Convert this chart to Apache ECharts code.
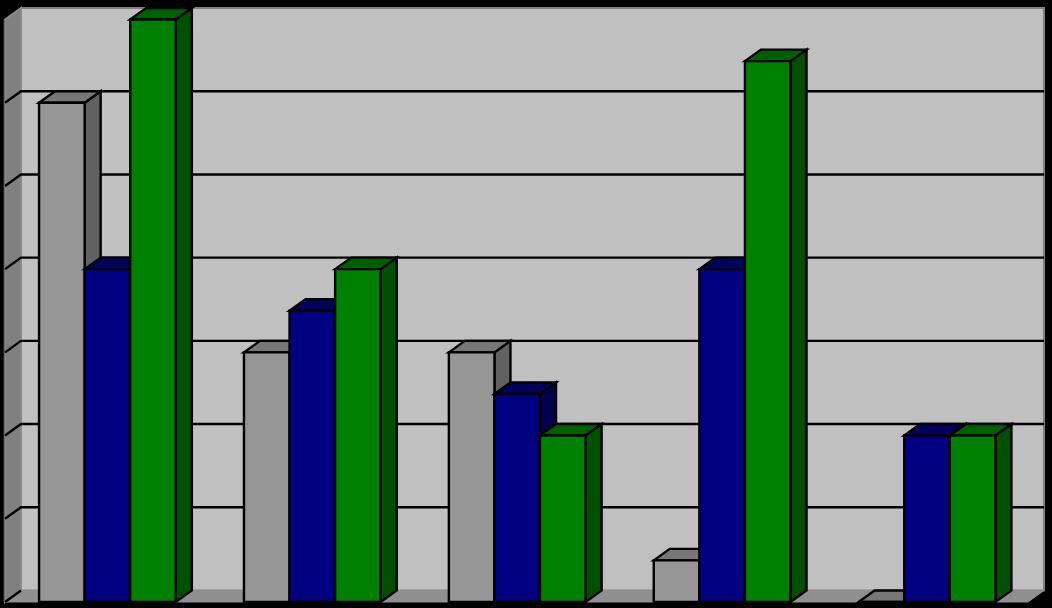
<!DOCTYPE html>
<html><head><meta charset="utf-8">
<style>html,body{margin:0;padding:0;background:#000}#c{width:1052px;height:608px}</style>
<script src="https://cdn.jsdelivr.net/npm/echarts@6/dist/echarts.min.js"></script>
</head><body><div id="c"></div>
<script>
const categories = ['A','B','C','D','E'];
const seriesGray  = [6, 3, 3, 0.5, 0];
const seriesNavy  = [4, 3.5, 2.5, 4, 2];
const seriesGreen = [7, 4, 2, 6.5, 2];
const gridValues = [0,1,2,3,4,5,6,7];
const DX = 16, DY = 11.5, BAR = 0.2225, WALL_TRIM = 1.5;
const palette = [
  {front:'#969696', top:'#777777', side:'#616161'},
  {front:'#000080', top:'#00005f', side:'#00004f'},
  {front:'#008000', top:'#006000', side:'#005000'}
];
const chart = echarts.init(document.getElementById('c'), null, {renderer:'canvas'});
const poly = (points, fill, lw, stroke) => ({
  type:'polygon', shape:{points},
  style:{fill, stroke: stroke||'#000', lineWidth: lw===undefined?2.4:lw, lineJoin:'miter'}
});
function renderBackdrop(params, api){
  const step = api.size([1,0])[0];
  const x0 = api.coord([0,0])[0] - step/2;
  const x1 = x0 + step*categories.length - WALL_TRIM;
  const yb = api.coord([0,0])[1], yt = api.coord([0,7])[1];
  const kids = [];
  kids.push(poly([[x0+DX,yt-DY],[x1+DX,yt-DY],[x1+DX,yb-DY],[x0+DX,yb-DY]],'#c0c0c0',2,'#808080'));
  kids.push(poly([[x0,yt],[x0+DX,yt-DY],[x0+DX,yb-DY],[x0,yb]],'#808080',2,'#8a8a8a'));
  kids.push(poly([[x0,yb],[x1,yb],[x1+DX,yb-DY],[x0+DX,yb-DY]],'#8f8f8f',1,'#8f8f8f'));
  gridValues.slice(1,-1).forEach(v=>{
    const y = api.coord([0,v])[1];
    kids.push({type:'polyline',shape:{points:[[x0,y],[x0+DX,y-DY],[x1+DX,y-DY]]},
      style:{fill:null,stroke:'#000',lineWidth:2.4}});
  });
  kids.push({type:'line',shape:{x1:x0,y1:yb,x2:x0+DX,y2:yb-DY},style:{stroke:'#000',lineWidth:2.4}});
  kids.push({type:'line',shape:{x1:x0-1,y1:yt,x2:x0-1,y2:yb},style:{stroke:'#4a4a4a',lineWidth:1}});
  return {type:'group',children:kids};
}
function barRenderer(idx){
  const c = palette[idx];
  return function(params, api){
    const cat = api.value(0), val = api.value(1);
    const base = api.coord([cat,0]), top = api.coord([cat,val]);
    const w = api.size([1,0])[0]*BAR;
    const l = base[0] + (idx-1.5)*w, r = l+w, yt = top[1], yb = base[1];
    return {type:'group',children:[
      poly([[r,yt],[r+DX,yt-DY],[r+DX,yb-DY],[r,yb]],c.side),
      poly([[l,yt],[l+DX,yt-DY],[r+DX,yt-DY],[r,yt]],c.top),
      poly([[l,yt],[r,yt],[r,yb],[l,yb]],c.front)
    ]};
  };
}
const rows = arr => arr.map((v,i)=>[i,v]);
chart.setOption({
  backgroundColor:'#000',
  animation:false,
  grid:{left:5,right:22.5,top:19.5,bottom:6,containLabel:false},
  xAxis:{type:'category',data:categories,show:false,boundaryGap:true},
  yAxis:{type:'value',min:0,max:7,interval:1,show:false,splitLine:{show:false}},
  series:[
    {type:'custom',coordinateSystem:'cartesian2d',clip:false,silent:true,z:1,data:[[0,0]],renderItem:renderBackdrop,encode:{x:0,y:1}},
    {type:'custom',clip:false,silent:true,z:2,data:rows(seriesGray),renderItem:barRenderer(0),encode:{x:0,y:1}},
    {type:'custom',clip:false,silent:true,z:3,data:rows(seriesNavy),renderItem:barRenderer(1),encode:{x:0,y:1}},
    {type:'custom',clip:false,silent:true,z:4,data:rows(seriesGreen),renderItem:barRenderer(2),encode:{x:0,y:1}}
  ]
});
</script></body></html>
